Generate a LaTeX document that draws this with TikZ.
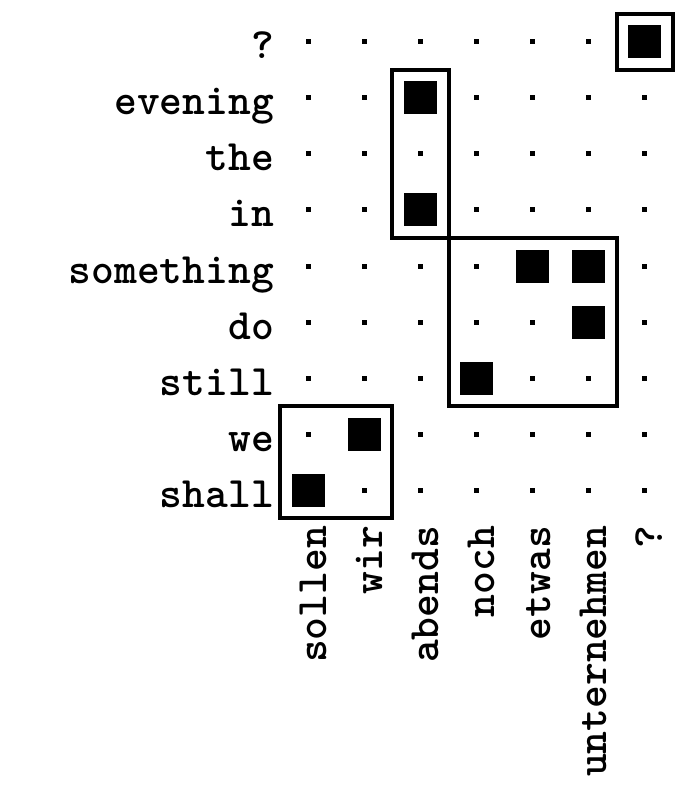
\documentclass[tikz,border=0pt]{standalone}
\usepackage{fontspec}
\begin{document}
\begin{tikzpicture}[x=1bp,y=-1bp,
  lab/.style={font=\fontsize{43.4bp}{45bp}\selectfont\ttfamily\bfseries\addfontfeatures{FakeBold=1.2}, inner sep=0pt},
  dotc/.style={fill=black, minimum size=5bp, inner sep=0pt, draw=none, rectangle},
  hit/.style={fill=black, minimum size=33bp, inner sep=0pt, draw=none, rectangle},
  frame/.style={draw=black, line width=4bp, line join=miter}]
\useasboundingbox (0,0) rectangle (688,800);
% row labels (0 = bottom)
\foreach \w [count=\i from 0] in {shall,we,still,do,something,in,the,evening,?} {
  \node[lab, anchor=base east] (r\i) at (274, {490.3-56.07*\i+17}) {\w};
}
% column labels
\foreach \w [count=\j from 0] in {sollen,wir,abends,noch,etwas,unternehmen,?} {
  \node[lab, rotate=90, anchor=base east] (c\j) at ({308.3+56.1*\j+18}, 526) {\w};
}
% grid dots
\foreach \i in {0,...,8} {
  \foreach \j in {0,...,6} {
    \node[dotc] (d-\i-\j) at ({308.3+56.1*\j}, {490.3-56.07*\i}) {};
  }
}
% alignment points
\foreach \i/\j in {0/0,1/1,5/2,7/2,2/3,4/4,4/5,3/5,8/6} {
  \node[hit] (s-\i-\j) at ({308.3+56.1*\j}, {490.3-56.07*\i}) {};
}
% boxes
\draw[frame] (280.25,406.2) rectangle (392.45,518.3);
\draw[frame] (392.45,69.8) rectangle (448.55,238.1);
\draw[frame] (448.55,238.1) rectangle (616.85,406.2);
\draw[frame] (616.85,13.7) rectangle (672.95,69.8);
\end{tikzpicture}
\end{document}
